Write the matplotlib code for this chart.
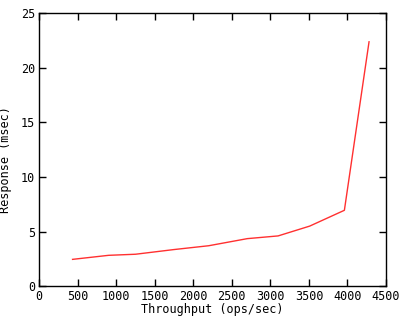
import matplotlib
matplotlib.use("Agg")
import matplotlib.pyplot as plt

# ===== Data =====
throughput = [433, 900, 1250, 1750, 2200, 2700, 3100, 3510, 3960, 4280]
response = [2.45, 2.82, 2.92, 3.35, 3.7, 4.35, 4.6, 5.5, 6.95, 22.4]

x_ticks = [0, 500, 1000, 1500, 2000, 2500, 3000, 3500, 4000, 4500]
y_ticks = [0, 5, 10, 15, 20, 25]

FONT = "DejaVu Sans Mono"
FS = 8.5

fig = plt.figure(figsize=(4, 3.2), dpi=100)
ax = fig.add_axes([0.098, 0.106, 0.867, 0.852])

ax.plot(throughput, response, color="#ff3030", linewidth=1.0)

ax.set_xlim(0, 4500)
ax.set_ylim(0, 25)
ax.set_xticks(x_ticks)
ax.set_yticks(y_ticks)
ax.set_xticklabels([str(t) for t in x_ticks], family=FONT, fontsize=FS)
ax.set_yticklabels([str(t) for t in y_ticks], family=FONT, fontsize=FS)
ax.tick_params(direction="in", top=True, right=True, length=5, width=1,
               pad=3)

for s in ax.spines.values():
    s.set_linewidth(1)

# axis titles placed in figure coords, as in the reference
fig.text(0.53, 0.032, "Throughput (ops/sec)", family=FONT, fontsize=FS,
         ha="center", va="center")
fig.text(0.013, 0.5, "Response (msec)", family=FONT, fontsize=FS,
         rotation=90, ha="center", va="center")

fig.savefig("out.png", dpi=100)
